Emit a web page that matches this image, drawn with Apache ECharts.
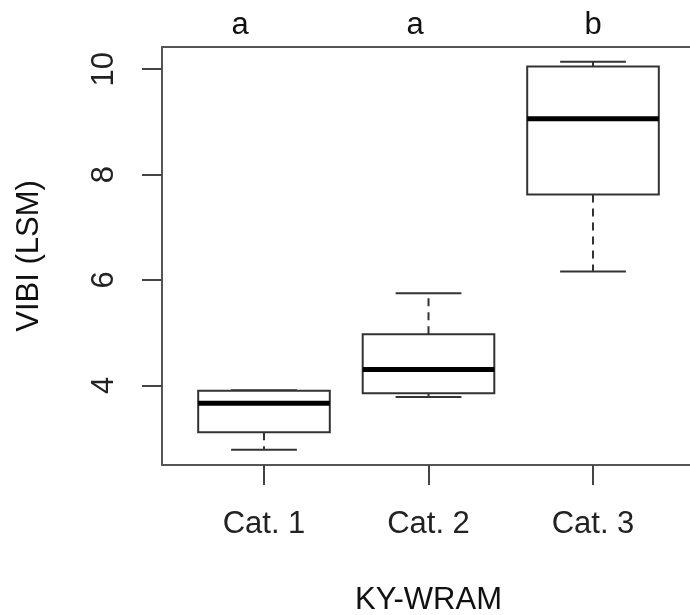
<!DOCTYPE html>
<html>
<head>
<meta charset="utf-8">
<script src="https://cdn.jsdelivr.net/npm/echarts@6/dist/echarts.min.js"></script>
<style>
  html, body { margin: 0; padding: 0; background: #fff; }
  #main { width: 690px; height: 615px; }
</style>
</head>
<body>
<div id="main"></div>
<script>
// box statistics, one entry per group
var categories = ['Cat. 1', 'Cat. 2', 'Cat. 3'];
var lowerWhisker = [2.78, 3.78, 6.16];
var lowerQuartile = [3.11, 3.85, 7.62];
var medians = [3.66, 4.30, 9.06];
var upperQuartile = [3.90, 4.97, 10.05];
var upperWhisker = [3.91, 5.75, 10.14];
var yTicks = [4, 6, 8, 10];
var groupLetters = ['a', 'a', 'b'];

var FONT = 'Liberation Sans, Arial, sans-serif';
var LINE = '#333';

var boxData = [];
for (var i = 0; i < categories.length; i++) {
    boxData.push([i + 1, lowerWhisker[i], lowerQuartile[i], medians[i], upperQuartile[i], upperWhisker[i]]);
}

// R style box: dashed whiskers, half-width staples, thick median
function renderBox(params, api) {
    var x = api.value(0);
    var lo = api.coord([x, api.value(1)]);
    var q1 = api.coord([x, api.value(2)]);
    var med = api.coord([x, api.value(3)]);
    var q3 = api.coord([x, api.value(4)]);
    var hi = api.coord([x, api.value(5)]);
    var boxW = api.size([0.8, 0])[0];
    var half = boxW / 2;
    var cap = boxW / 4;
    var cx = med[0];
    var thin = { stroke: LINE, lineWidth: 2 };
    return {
        type: 'group',
        children: [
            { type: 'line', shape: { x1: cx, y1: q3[1], x2: cx, y2: hi[1] },
              style: { stroke: LINE, lineWidth: 2, lineDash: [8, 6] } },
            { type: 'line', shape: { x1: cx, y1: q1[1], x2: cx, y2: lo[1] },
              style: { stroke: LINE, lineWidth: 2, lineDash: [8, 6] } },
            { type: 'line', shape: { x1: cx - cap, y1: hi[1], x2: cx + cap, y2: hi[1] }, style: thin },
            { type: 'line', shape: { x1: cx - cap, y1: lo[1], x2: cx + cap, y2: lo[1] }, style: thin },
            { type: 'rect', shape: { x: cx - half, y: q3[1], width: boxW, height: q1[1] - q3[1] },
              style: { fill: '#fff', stroke: LINE, lineWidth: 2 } },
            { type: 'line', shape: { x1: cx - half, y1: med[1], x2: cx + half, y2: med[1] },
              style: { stroke: '#000', lineWidth: 5 } }
        ]
    };
}

var letterX = [240, 415, 593];
var letters = [];
for (var j = 0; j < groupLetters.length; j++) {
    letters.push({
        type: 'text',
        x: letterX[j],
        y: 25,
        style: {
            text: groupLetters[j],
            font: '31px ' + FONT,
            fill: '#111',
            align: 'center',
            verticalAlign: 'middle'
        }
    });
}

var chart = echarts.init(document.getElementById('main'));
var option = {
    backgroundColor: '#fff',
    animation: false,
    grid: {
        left: 162,
        top: 47,
        width: 533,
        bottom: 150,
        outerBoundsMode: 'none',
        containLabel: false,
        show: true,
        borderColor: '#555',
        borderWidth: 2,
        backgroundColor: 'transparent'
    },
    xAxis: {
        type: 'value',
        min: 0.38,
        max: 3.62,
        name: 'KY-WRAM',
        nameLocation: 'middle',
        nameGap: 120,
        nameTextStyle: { fontSize: 31, fontFamily: FONT, color: '#111' },
        axisLine: { show: false },
        splitLine: { show: false },
        axisTick: { show: true, length: 20, customValues: [1, 2, 3], lineStyle: { color: '#444', width: 2 } },
        axisLabel: {
            customValues: [1, 2, 3],
            margin: 44,
            fontSize: 31,
            fontFamily: FONT,
            color: '#222',
            formatter: function (v) { return categories[Math.round(v) - 1]; }
        }
    },
    yAxis: {
        type: 'value',
        min: 2.49,
        max: 10.42,
        name: 'VIBI (LSM)',
        nameLocation: 'middle',
        nameGap: 117,
        nameTextStyle: { fontSize: 31, fontFamily: FONT, color: '#111' },
        axisLine: { show: false },
        splitLine: { show: false },
        axisTick: { show: true, length: 20, customValues: yTicks, lineStyle: { color: '#444', width: 2 } },
        axisLabel: {
            customValues: yTicks,
            rotate: 90,
            margin: 42,
            fontSize: 31,
            fontFamily: FONT,
            color: '#222'
        }
    },
    graphic: letters,
    series: [{
        type: 'custom',
        renderItem: renderBox,
        data: boxData,
        encode: { x: 0, y: [1, 2, 3, 4, 5] }
    }]
};
chart.setOption(option);
</script>
</body>
</html>
